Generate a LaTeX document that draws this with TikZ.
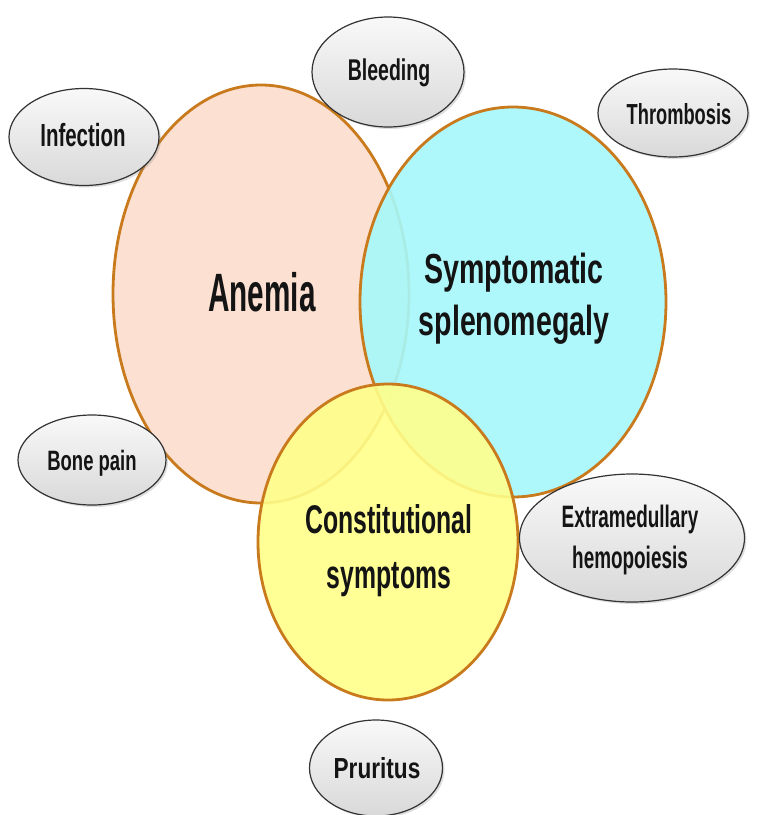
\documentclass[tikz,border=0pt]{standalone}
\usepackage{fontspec}
\setmainfont{Liberation Sans}
\usetikzlibrary{shapes.geometric,shadows}
\definecolor{peach}{HTML}{FCE0D2}
\definecolor{aqua}{HTML}{A6F8FB}
\definecolor{lemon}{HTML}{FFFF8A}
\definecolor{rim}{HTML}{C97A1C}
\definecolor{ink}{HTML}{141414}
\newcommand{\lab}[4]{{\fontsize{#1}{#2}\selectfont\bfseries\addfontfeature{FakeStretch=#3}\begin{tabular}[t]{@{}c@{}}#4\end{tabular}}}
\tikzset{
  big/.style={ellipse, draw=rim, line width=2.8pt, inner sep=0pt},
  small/.style={ellipse, draw=black!80, line width=1.2pt, top color=gray!5, bottom color=gray!30,
    inner sep=0pt, drop shadow={shadow xshift=2pt, shadow yshift=-2pt, opacity=0.25}},
  txt/.style={anchor=base, inner sep=0pt, text=ink}
}
\begin{document}
\begin{tikzpicture}[x=1pt,y=-1pt]
\path[use as bounding box, fill=white] (0,0) rectangle (759,815);
% large circles
\node[big, fill=peach, minimum width=296pt, minimum height=418pt] (anemia) at (261,294) {};
\node[big, fill=aqua, fill opacity=0.9, minimum width=306pt, minimum height=390pt] (spleen) at (513,302) {};
\node[big, fill=lemon, fill opacity=0.9, minimum width=260pt, minimum height=316pt] (const) at (388,542) {};
\node[txt] (tAnemia) at (262,311) {\lab{54}{60}{0.55}{Anemia}};
\node[txt] (tSpleen) at (514,283) {\lab{42}{52}{0.68}{Symptomatic\\splenomegaly}};
\node[txt] (tConst) at (389,533) {\lab{40}{55}{0.62}{Constitutional\\symptoms}};
% small ellipses
\node[small, minimum width=150pt, minimum height=97pt] (infection) at (84,137) {};
\node[txt] (tInf) at (83,146) {\lab{32}{36}{0.64}{Infection}};
\node[small, minimum width=152pt, minimum height=110pt] (bleeding) at (388,72) {};
\node[txt] (tBle) at (389,80) {\lab{30}{33}{0.65}{Bleeding}};
\node[small, minimum width=150pt, minimum height=88pt] (thrombosis) at (673,113) {};
\node[txt] (tThr) at (679,124) {\lab{29}{33}{0.63}{Thrombosis}};
\node[small, minimum width=148pt, minimum height=90pt] (bone) at (92,460) {};
\node[txt] (tBone) at (92,470) {\lab{28}{32}{0.66}{Bone pain}};
\node[small, minimum width=225pt, minimum height=128pt] (extra) at (632,538) {};
\node[txt] (tExtra) at (630,527) {\lab{31}{41}{0.61}{Extramedullary\\hemopoiesis}};
\node[small, minimum width=133pt, minimum height=96pt] (pruritus) at (376,768) {};
\node[txt] (tPru) at (377,778) {\lab{29}{30}{0.78}{Pruritus}};
\end{tikzpicture}
\end{document}
